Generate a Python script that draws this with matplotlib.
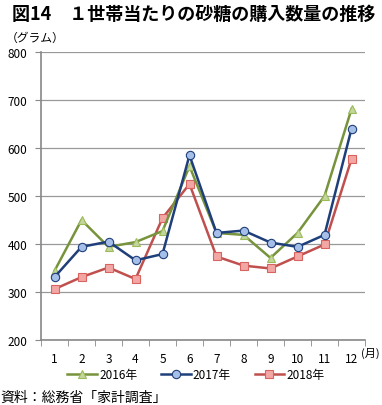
import numpy as np
import matplotlib.pyplot as plt

plt.rcParams['font.family'] = ['Noto Sans CJK JP', 'DejaVu Sans']

months = [str(m) for m in range(1, 13)]
y2016 = [344, 450, 394, 404, 427, 562, 423, 419, 371, 423, 500, 681]
y2017 = [331, 394, 405, 366, 379, 585, 423, 428, 403, 394, 419, 640]
y2018 = [306, 331, 351, 327, 454, 525, 374, 355, 349, 374, 399, 577]

fig = plt.figure(figsize=(3.82, 4.06), dpi=100)
ax = fig.add_axes([41 / 382, 1 - 341 / 406, 324 / 382, 288 / 406])

x = np.arange(1, 13)
ax.plot(x, y2016, color='#77933C', lw=1.8, marker='^', ms=6,
        mfc='#C3D69B', mec='#9BBB59', mew=0.8, label='2016年', zorder=3)
ax.plot(x, y2017, color='#1F3F7A', lw=1.8, marker='o', ms=6,
        mfc='#A6BFE8', mec='#1F3F7A', mew=0.8, label='2017年', zorder=4)
ax.plot(x, y2018, color='#C0504D', lw=1.8, marker='s', ms=6,
        mfc='#F2A7A5', mec='#D9635F', mew=0.8, label='2018年', zorder=2)

ax.set_xlim(0.5, 12.5)
ax.set_ylim(200, 800)
ax.set_yticks(range(200, 801, 100))
ax.set_xticks(x)
ax.set_xticklabels(months)
ax.set_xticks(np.arange(0.5, 12.6, 1), minor=True)
ax.tick_params(axis='x', which='major', length=0, pad=9, labelsize=8.5)
ax.tick_params(axis='x', which='minor', length=4, color='#888888', direction='out')
ax.tick_params(axis='y', length=4, color='#888888', labelsize=8.5, pad=6)

ax.grid(axis='y', color='#999999', lw=0.9)
ax.set_axisbelow(True)
for s in ['top', 'right']:
    ax.spines[s].set_visible(False)
ax.spines['left'].set_color('#888888')
ax.spines['bottom'].set_color('#888888')
ax.spines['left'].set_linewidth(1.2)
ax.spines['bottom'].set_linewidth(1.2)

fig.text(361 / 382, 1 - 353 / 406, '(月)', ha='left', va='center', fontsize=8)

fig.text(12 / 382, 1 - 14 / 406, '図14　１世帯当たりの砂糖の購入数量の推移',
         fontsize=13, fontweight='bold', va='center', ha='left')
fig.text(6 / 382, 1 - 38 / 406, '（グラム）', fontsize=8.5, va='center', ha='left')
fig.text(0 / 382, 1 - 398 / 406, '資料：総務省「家計調査」', fontsize=10,
         va='center', ha='left')

fig.legend(loc='center', bbox_to_anchor=(196 / 382, 1 - 376 / 406), ncol=3,
           frameon=False, fontsize=8.5, handlelength=2.5, columnspacing=2.0,
           handletextpad=0.2)

fig.savefig('out.png', dpi=100)
